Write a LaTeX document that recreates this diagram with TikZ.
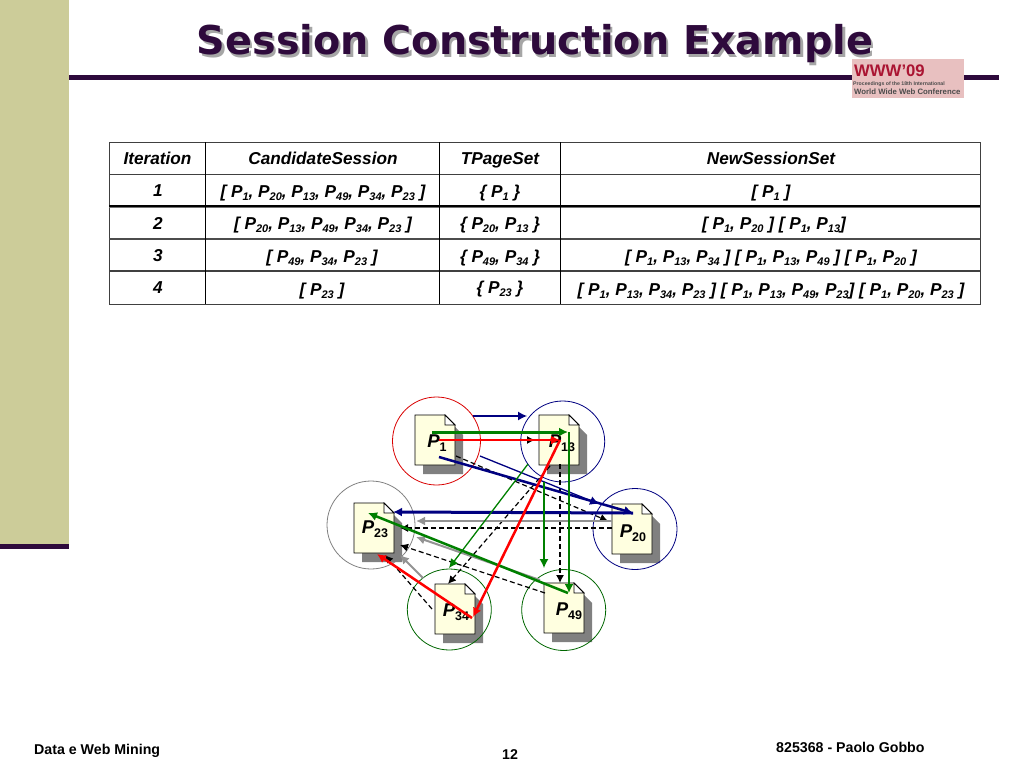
\documentclass[tikz,border=0pt]{standalone}
\usepackage{fontspec}
\setmainfont{Liberation Sans}
\newfontfamily\titlefont{DejaVu Sans}
\usepackage{tikz}
\usetikzlibrary{arrows.meta, shapes.geometric}

\definecolor{bandkhaki}{RGB}{204,204,153}
\definecolor{rulepurple}{RGB}{46,10,60}
\definecolor{pagecream}{RGB}{255,255,224}
\definecolor{navyline}{RGB}{0,0,128}
\definecolor{greenline}{RGB}{0,128,0}
\definecolor{logopink}{RGB}{232,192,192}
\definecolor{logored}{RGB}{170,20,50}

% page name with its index, as printed in the table and on the pages
\newcommand{\pgt}[1]{P\raisebox{-3.5pt}{\fontsize{11}{11}\selectfont #1}}
\newcommand{\pgl}[1]{{\fontsize{18.5}{18.5}\selectfont\bfseries\itshape P}\raisebox{-4.5pt}{\fontsize{12.5}{12.5}\selectfont\bfseries #1}}
% title text with its drop shadow
\newcommand{\shadowtext}[1]{\rlap{\kern2.5pt\raisebox{-2.5pt}{\color{gray!70}#1}}#1}

\tikzset{
  tablecell/.style={anchor=base, inner sep=0pt, font=\fontsize{17.2}{17.2}\selectfont\bfseries\itshape},
  footcell/.style={anchor=base, inner sep=0pt, font=\fontsize{14.2}{14.2}\selectfont\bfseries},
  ring/.style={ellipse, draw=#1, line width=0.8pt, inner sep=0pt, minimum width=84pt, minimum height=81pt},
  navythin/.style={navyline, line width=1.3pt, -{Latex[length=9pt, width=9pt]}},
  navythick/.style={navyline, line width=2.5pt, -{Latex[length=9pt, width=9pt]}},
  greenthin/.style={greenline, line width=1.3pt, -{Latex[length=9pt, width=9pt]}},
  greenthick/.style={greenline, line width=2.5pt, -{Latex[length=9pt, width=9pt]}},
  redthick/.style={red, line width=2.5pt, -{Latex[length=9pt, width=9pt]}},
  grayline/.style={gray!85, line width=2pt, -{Latex[length=9pt, width=9pt]}},
  dashline/.style={black, line width=1.2pt, dash pattern=on 5pt off 3pt, -{Latex[length=8pt, width=8pt]}}
}

\begin{document}
\begin{tikzpicture}[x=1pt, y=-1pt]
    \useasboundingbox (0, 0) rectangle (1024, 768);

    % draw side band and title rule
    \fill[bandkhaki] (0, 0) rectangle (69, 544);
    \fill[rulepurple] (0, 544) rectangle (69, 549);
    \fill[rulepurple] (69, 75) rectangle (999, 80);

    % draw title
    \node[anchor=base, inner sep=0pt, rulepurple, font=\titlefont\fontsize{39.7}{39.7}\selectfont\bfseries]
      (title) at (535, 55) {\shadowtext{Session Construction Example}};

    % draw logo
    \fill[logopink] (852, 59) rectangle (964, 98);
    \node[anchor=base west, inner sep=0pt, logored, font=\fontsize{16.7}{16.7}\selectfont\bfseries]
      (logoa) at (854, 76) {WWW'09};
    \node[anchor=base west, inner sep=0pt, black!70, font=\fontsize{5.2}{5.2}\selectfont\bfseries]
      (logob) at (853, 85) {Proceedings of the 18th International};
    \node[anchor=base west, inner sep=0pt, black!70, font=\fontsize{7.8}{7.8}\selectfont\bfseries]
      (logoc) at (854, 94) {World Wide Web Conference};

    % draw table lines
    \draw[black!75, line width=1pt] (109, 142) rectangle (980, 304);
    \draw[black!75, line width=1pt] (109, 174.5) -- (980, 174.5);
    \draw[black, line width=1.5pt] (109, 206) -- (980, 206);
    \draw[black!55, line width=1pt] (109, 207.5) -- (980, 207.5);
    \draw[black!70, line width=2pt] (109, 238.5) -- (980, 238.5);
    \draw[black!75, line width=1.5pt] (109, 271) -- (980, 271);
    \foreach \x in {205.5, 439.5, 560.5}
      \draw[black, line width=1pt] (\x, 142) -- (\x, 304);

    % draw table header
    \node[tablecell] (iterhead) at (157.5, 164) {Iteration};
    \node[tablecell] (candhead) at (323, 164) {CandidateSession};
    \node[tablecell] (tpaghead) at (500, 164) {TPageSet};
    \node[tablecell] (newshead) at (771, 164) {NewSessionSet};

    % draw table rows
    \node[tablecell] (iter1) at (158, 196) {1};
    \node[tablecell] (cand1) at (323, 197) {[ \pgt{1}, \pgt{20}, \pgt{13}, \pgt{49}, \pgt{34}, \pgt{23} ]};
    \node[tablecell] (tpag1) at (500, 197) {\{ \pgt{1} \}};
    \node[tablecell] (news1) at (771, 197) {[ \pgt{1} ]};

    \node[tablecell] (iter2) at (158, 229) {2};
    \node[tablecell] (cand2) at (323, 229) {[ \pgt{20}, \pgt{13}, \pgt{49}, \pgt{34}, \pgt{23} ]};
    \node[tablecell] (tpag2) at (500, 229) {\{ \pgt{20}, \pgt{13} \}};
    \node[tablecell] (news2) at (774, 229) {[ \pgt{1}, \pgt{20} ] [ \pgt{1}, \pgt{13}]};

    \node[tablecell] (iter3) at (158, 261) {3};
    \node[tablecell] (cand3) at (322, 262) {[ \pgt{49}, \pgt{34}, \pgt{23} ]};
    \node[tablecell] (tpag3) at (500, 262) {\{ \pgt{49}, \pgt{34} \}};
    \node[tablecell] (news3) at (771, 262) {[ \pgt{1}, \pgt{13}, \pgt{34} ] [ \pgt{1}, \pgt{13}, \pgt{49} ] [ \pgt{1}, \pgt{20} ]};

    \node[tablecell] (iter4) at (158, 293) {4};
    \node[tablecell] (cand4) at (322, 295) {[ \pgt{23} ]};
    \node[tablecell] (tpag4) at (500, 293) {\{ \pgt{23} \}};
    \node[tablecell] (news4) at (771, 295) {[ \pgt{1}, \pgt{13}, \pgt{34}, \pgt{23} ] [ \pgt{1}, \pgt{13}, \pgt{49}, \pgt{23}] [ \pgt{1}, \pgt{20}, \pgt{23} ]};

    % draw pages with their shadows and labels
    \foreach \sub/\cx/\cy/\lx/\ly in {1/435/440/437/443, 13/559/440/562/443, 20/632/529/633/533,
                                      23/374/528/375/529, 34/455/609/456/612, 49/564/608/569/611} {
      \fill[gray] (\cx-12, \cy-15) -- (\cx+18, \cy-15) -- (\cx+28, \cy-5) -- (\cx+28, \cy+34) -- (\cx-12, \cy+34) -- cycle;
      \filldraw[draw=black, fill=pagecream, line width=0.8pt]
        (\cx-20, \cy-25) -- (\cx+10, \cy-25) -- (\cx+20, \cy-15) -- (\cx+20, \cy+25) -- (\cx-20, \cy+25) -- cycle;
      \filldraw[draw=black, fill=white, line width=0.8pt]
        (\cx+10, \cy-25) -- (\cx+10, \cy-15) -- (\cx+20, \cy-15) -- cycle;
      \node[inner sep=0pt, minimum width=40pt, minimum height=50pt] (P\sub) at (\cx, \cy) {};
      \node[inner sep=0pt] (lbl\sub) at (\lx, \ly) {\pgl{\sub}};
    }

    % draw rings around the pages
    \node[ring=red!85!black, minimum width=88pt, minimum height=88pt] (ring1) at (436.5, 441) {};
    \node[ring=navyline] (ring13) at (562.7, 441.5) {};
    \node[ring=navyline] (ring20) at (635, 529) {};
    \node[ring=gray, minimum width=88pt, minimum height=88pt] (ring23) at (371, 525) {};
    \node[ring=greenline!80!black] (ring34) at (449.3, 609.5) {};
    \node[ring=greenline!80!black] (ring49) at (563.7, 610) {};

    % draw dashed links
    \draw[dashline] ([shift={(4, 0)}]P1.center) -- ([shift={(-24, 0)}]P13.center);
    \draw[dashline] ([shift={(21, 16)}]P1.center) -- ([shift={(-24, -8)}]P20.center);
    \draw[dashline] ([shift={(-20, -1)}]P20.center) -- ([shift={(26, 0)}]P23.center);
    \draw[dashline] ([shift={(1, 24)}]P13.center) -- ([shift={(-4, -25)}]P49.center);
    \draw[dashline] ([shift={(-9, 26)}]P13.center) -- ([shift={(-7, -25)}]P34.center);
    \draw[dashline] ([shift={(-19, -15)}]P49.center) -- ([shift={(26, 17)}]P23.center);
    \draw[dashline] ([shift={(-23, 0)}]P34.center) -- ([shift={(11, 27)}]P23.center);

    % draw gray links
    \draw[grayline] ([shift={(-20, -8)}]P20.center) -- ([shift={(42, -7)}]P23.center);
    \draw[grayline] ([shift={(-24, -28)}]P49.center) -- ([shift={(42, 9)}]P23.center);
    \draw[grayline] ([shift={(-32, -31)}]P34.center) -- ([shift={(26, 27)}]P23.center);

    % draw navy links
    \draw[navythin] ([shift={(38, -24)}]P1.center) -- ([shift={(-32, -24)}]P13.center);
    \draw[navythin] ([shift={(45, 16)}]P1.center) -- ([shift={(-33, -25)}]P20.center);
    \draw[navythick] ([shift={(4, 17)}]P1.center) -- ([shift={(1, -16)}]P20.center);
    \draw[navythick, line width=3pt] ([shift={(1, -16)}]P20.center) -- ([shift={(19, -16)}]P23.center);

    % draw green links
    \draw[greenthin] ([shift={(-31, 24)}]P13.center) -- ([shift={(-6, -41)}]P34.center);
    \draw[greenthin] ([shift={(-15, 42)}]P13.center) -- ([shift={(-20, -40)}]P49.center);
    \draw[greenthick, line width=3pt] ([shift={(-3, -8)}]P1.center) -- ([shift={(9, -8)}]P13.center);
    \draw[greenthick] ([shift={(10, -8)}]P13.center) -- ([shift={(5, -15)}]P49.center);
    \draw[greenthick] ([shift={(4, -15)}]P49.center) -- ([shift={(-6, -15)}]P23.center);

    % draw red links
    \draw[redthick] ([shift={(4, 0)}]P1.center) -- ([shift={(1, 0)}]P13.center);
    \draw[redthick] ([shift={(1, 0)}]P13.center) -- ([shift={(18, 8)}]P34.center);
    \draw[redthick] ([shift={(17, 9)}]P34.center) -- ([shift={(3, 26)}]P23.center);

    % draw footer
    \node[footcell, anchor=base west] (footleft) at (34, 754) {Data e Web Mining};
    \node[footcell, anchor=base west] (footright) at (776, 752) {825368 - Paolo Gobbo};
    \node[footcell] (footpage) at (510, 759) {12};
\end{tikzpicture}
\end{document}
